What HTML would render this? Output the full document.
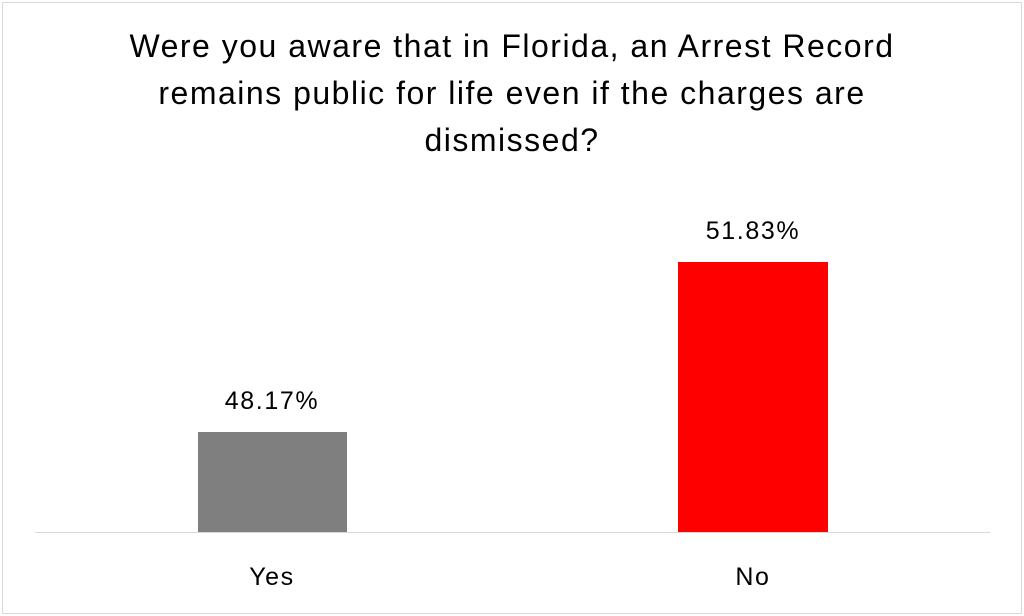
<!DOCTYPE html>
<html><head><style>
body{margin:0;width:1024px;height:616px;background:#fff;font-family:"Liberation Sans",sans-serif;overflow:hidden}
.frame{position:absolute;left:2px;top:2px;width:1018px;height:610px;border:1px solid #d9d9d9}
.t{position:absolute;left:0;width:1024px;text-align:center;font-size:32px;letter-spacing:1.5px;color:#000}
.l{position:absolute;text-align:center;font-size:25px;letter-spacing:1.6px;color:#000;width:200px}
</style></head><body>
<div class="frame"></div>
<div class="t" style="top:28px">Were you aware that in Florida, an Arrest Record</div>
<div class="t" style="top:75px">remains public for life even if the charges are</div>
<div class="t" style="top:122px">dismissed?</div>
<div style="position:absolute;left:198px;top:432px;width:149px;height:100px;background:#7f7f7f"></div>
<div style="position:absolute;left:678px;top:262px;width:150px;height:270px;background:#ff0000"></div>
<div style="position:absolute;left:35px;top:532px;width:955px;height:1px;background:#d9d9d9"></div>
<div class="l" style="left:172px;top:387px">48.17%</div>
<div class="l" style="left:653px;top:217px">51.83%</div>
<div class="l" style="left:172px;top:563px">Yes</div>
<div class="l" style="left:653px;top:563px">No</div>
</body></html>
